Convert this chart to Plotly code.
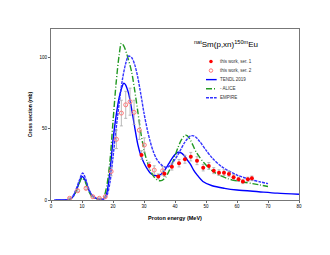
import plotly.graph_objects as go

# ---- experimental data ----
ser1_E = [29.2, 31.7, 34.6, 36.6, 39.0, 41.3, 43.2, 45.1, 47.1, 49.1, 50.9, 52.5, 54.2, 55.8, 57.4, 58.9, 60.5, 61.9, 63.5, 64.8]
ser1_s = [31.6, 24.0, 16.5, 18.5, 23.4, 25.8, 28.6, 30.4, 27.6, 22.7, 23.9, 20.6, 19.2, 19.2, 18.3, 16.0, 14.5, 12.9, 14.5, 15.2]
ser1_err = [3.0, 2.5, 1.8, 2.0, 2.4, 2.6, 2.8, 3.0, 2.8, 2.3, 2.4, 2.1, 2.0, 2.0, 1.9, 1.7, 1.5, 1.4, 1.5, 1.6]

ser2_E = [6.0, 8.6, 11.3, 13.5, 15.6, 17.5, 19.4, 21.1, 22.7, 24.1, 25.5, 26.8, 28.5, 30.1, 33.3, 36.0]
ser2_s = [1.2, 6.5, 8.2, 2.3, 1.2, 2.3, 20.0, 42.6, 61.0, 66.8, 69.0, 61.5, 49.0, 38.6, 21.0, 20.5]
ser2_err = [0.4, 0.8, 1.0, 0.4, 0.3, 0.4, 3.0, 6.5, 9.0, 9.5, 9.5, 8.5, 6.5, 5.0, 3.0, 3.0]

# ---- model calculations ----
tendl_E = [1.5, 4, 6, 7, 8, 9, 10, 11, 12, 13, 14, 15, 16, 17, 18, 19, 20, 21, 22, 23, 23.5, 24, 25, 26, 27, 28, 29, 30, 31, 32, 33, 34, 35, 36, 37, 38, 39, 40, 41, 42, 43, 44, 45, 46, 47, 49, 52, 56, 60, 67, 73, 80]
tendl_s = [0, 0, 0.5, 2, 6, 11.5, 16.5, 14, 8, 4, 1.8, 0.8, 0.5, 0.6, 5, 20, 42, 59, 72, 80, 82, 81, 75, 64, 51, 39, 31, 26, 22, 19, 17.5, 17, 17.5, 19, 22, 25.5, 29, 32, 33.5, 33, 31, 28, 25, 21, 18, 13, 10, 8.2, 7, 5.8, 4.8, 4.0]

alice_E = [5, 6, 7, 8, 9, 10, 11, 12, 13, 14, 15, 16, 17, 18, 19, 20, 21, 22, 22.7, 23.5, 24.5, 26, 27, 28, 29, 30, 31, 32, 33, 34, 35, 36, 37, 38, 39, 40, 41, 42, 43.3, 44, 45, 47, 50, 53, 57, 61, 65, 70]
alice_s = [0, 0.5, 2, 5.5, 11, 15.5, 13, 7, 3, 1.2, 0.6, 0.5, 2, 10, 27, 55, 82, 102, 110, 108, 102, 90, 77, 62, 47, 35, 27, 21, 17, 14.5, 13.5, 14, 16, 20, 25, 31, 37, 42, 45.5, 45, 42, 33, 24.5, 19, 15, 13, 11.5, 9.5]

empire_E = [1, 4, 6, 7, 8, 9, 10.2, 11, 12, 13, 14, 15, 16, 17, 18, 19, 20, 21, 22, 23, 24, 25, 26, 27, 28, 29, 30, 31, 32, 33, 34, 35, 36, 37, 38, 39, 40, 41, 42, 43, 44, 45, 46, 47, 48, 50, 52, 55, 60, 65, 70]
empire_s = [0, 0, 0.5, 2.5, 7, 13, 19, 16, 9, 4, 1.8, 0.8, 0.5, 0.6, 3, 12, 30, 50, 68, 84, 95, 101, 100, 95, 86, 74, 61, 50, 41, 34, 29, 26, 24, 23, 23.5, 25.5, 28.5, 32, 36, 40, 43, 45, 45, 43.5, 41, 35, 29.5, 23.5, 17.5, 14, 11.5]

x_ticks = [0, 10, 20, 30, 40, 50, 60, 70, 80]
y_ticks = [0, 50, 100]

legend_labels = ["this work, ser. 1", "this work, ser. 2", "TENDL 2019", "- ALICE", "EMPIRE"]

BLUE = "#0000ff"
GREEN = "#229922"
EMP = "#3333ff"
RED = "#ff0000"
PINK = "#ff7777"
FONT = "Liberation Sans"

fig = go.Figure()

fig.add_trace(go.Scatter(x=tendl_E, y=tendl_s, mode="lines", line=dict(color=BLUE, width=1.4, shape="spline", smoothing=0.8), showlegend=False))
fig.add_trace(go.Scatter(x=alice_E, y=alice_s, mode="lines", line=dict(color=GREEN, width=1.4, dash="6px,2px,1px,2px", shape="spline", smoothing=0.8), showlegend=False))
fig.add_trace(go.Scatter(x=empire_E, y=empire_s, mode="lines", line=dict(color=EMP, width=1.4, dash="3px,1px", shape="spline", smoothing=0.8), showlegend=False))

fig.add_trace(go.Scatter(x=ser2_E, y=ser2_s, mode="markers",
                         error_y=dict(type="data", array=ser2_err, color="#aaaaaa", thickness=0.8, width=1.5),
                         marker=dict(symbol="circle-open", size=4, color=PINK, line=dict(width=1, color=PINK)), showlegend=False))
fig.add_trace(go.Scatter(x=ser1_E, y=ser1_s, mode="markers",
                         error_y=dict(type="data", array=ser1_err, color="#aaaaaa", thickness=0.8, width=1.5),
                         marker=dict(symbol="circle", size=4, color=RED), showlegend=False))

# ---- custom legend on an overlay axis (0..1 over the plot area) ----
leg_y = [0.81, 0.757, 0.704, 0.651, 0.598]
fig.add_trace(go.Scatter(x=[0.645], y=[leg_y[0]], xaxis="x2", yaxis="y2", mode="markers",
                         marker=dict(symbol="circle", size=3.5, color=RED), showlegend=False))
fig.add_trace(go.Scatter(x=[0.645], y=[leg_y[1]], xaxis="x2", yaxis="y2", mode="markers",
                         marker=dict(symbol="circle-open", size=3.5, color=PINK, line=dict(width=1, color=PINK)), showlegend=False))
fig.add_trace(go.Scatter(x=[0.625, 0.668], y=[leg_y[2]] * 2, xaxis="x2", yaxis="y2", mode="lines",
                         line=dict(color=BLUE, width=1.4), showlegend=False))
fig.add_trace(go.Scatter(x=[0.625, 0.668], y=[leg_y[3]] * 2, xaxis="x2", yaxis="y2", mode="lines",
                         line=dict(color=GREEN, width=1.4, dash="6px,2px,1px,2px"), showlegend=False))
fig.add_trace(go.Scatter(x=[0.625, 0.668], y=[leg_y[4]] * 2, xaxis="x2", yaxis="y2", mode="lines",
                         line=dict(color=EMP, width=1.4, dash="3px,1px"), showlegend=False))

annotations = []
for lab, yy in zip(legend_labels, leg_y):
    annotations.append(dict(x=0.672, y=yy, xref="x2", yref="y2", text=lab, showarrow=False,
                            xanchor="left", yanchor="middle", font=dict(family=FONT, size=4.5, color="#333333")))
annotations.append(dict(x=0.568, y=0.91, xref="x2", yref="y2",
                        text="<sup>nat</sup>Sm(p,xn)<sup>150m</sup>Eu", showarrow=False,
                        xanchor="left", yanchor="middle", font=dict(family=FONT, size=8, color="#000000")))

fig.update_layout(
    width=322, height=247,
    margin=dict(l=43, r=31, t=21, b=55),
    paper_bgcolor="white", plot_bgcolor="white",
    showlegend=False,
    annotations=annotations,
    xaxis=dict(range=[0, 80], tickvals=x_ticks, ticks="outside", ticklen=2, tickcolor="#666666",
               showgrid=False, zeroline=False, showline=True, linecolor="#777777", linewidth=1, mirror=True,
               tickfont=dict(family=FONT, size=4.5, color="#000000"),
               title=dict(text="<b>Proton energy (MeV)</b>", font=dict(family=FONT, size=5.5, color="#000000"), standoff=7)),
    yaxis=dict(range=[0, 120], tickvals=y_ticks, ticks="outside", ticklen=2, tickcolor="#666666",
               showgrid=False, zeroline=False, showline=True, linecolor="#777777", linewidth=1, mirror=True,
               tickfont=dict(family=FONT, size=4.5, color="#000000"),
               title=dict(text="<b>Cross section (mb)</b>", font=dict(family=FONT, size=5, color="#000000"), standoff=6)),
    xaxis2=dict(range=[0, 1], overlaying="x", visible=False, fixedrange=True),
    yaxis2=dict(range=[0, 1], overlaying="y", visible=False, fixedrange=True),
)

fig.write_html("out.html")
